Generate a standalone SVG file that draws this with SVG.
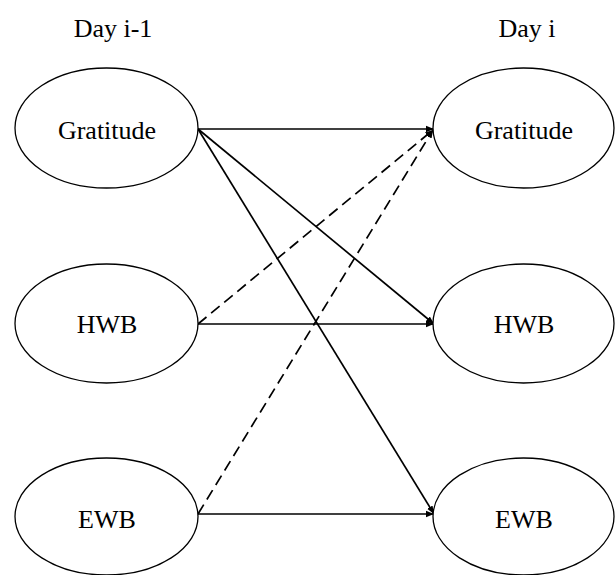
<svg xmlns="http://www.w3.org/2000/svg" width="615" height="575" viewBox="0 0 615 575">
<style>
.node ellipse{fill:#fff;stroke:#000;stroke-width:1.3}
text{font-family:"Liberation Serif","Times New Roman",serif;font-size:26px;fill:#000;text-anchor:middle}
.c line{stroke:#000;stroke-width:1.7;marker-end:url(#ah)}
.c .d{stroke-dasharray:11 6}
</style>
<defs>
<marker id="ah" viewBox="0 0 10 10" refX="10" refY="5" markerWidth="8" markerHeight="8" markerUnits="userSpaceOnUse" orient="auto">
<path d="M0,1 L10,5 L0,9 Z" fill="#000"/>
</marker>
</defs>
<rect width="615" height="575" fill="#fff"/>
<text x="113" y="37">Day i-1</text>
<text x="527" y="37">Day i</text>
<g class="c" id="connectors">
<line x1="198" y1="129" x2="434" y2="129"/>
<line x1="198" y1="129" x2="434" y2="324"/>
<line x1="198" y1="129" x2="434" y2="514"/>
<line x1="198" y1="324" x2="434" y2="324"/>
<line x1="198" y1="514" x2="434" y2="514"/>
<line class="d" x1="198" y1="324" x2="433" y2="130"/>
<line class="d" x1="198" y1="514" x2="433" y2="130"/>
</g>
<g class="node" id="grat-prev"><ellipse cx="106.5" cy="128" rx="91.5" ry="60"/><text x="107" y="139">Gratitude</text></g>
<g class="node" id="hwb-prev"><ellipse cx="106.5" cy="323.5" rx="91.5" ry="59.5"/><text x="107" y="333">HWB</text></g>
<g class="node" id="ewb-prev"><ellipse cx="106.5" cy="516.5" rx="91.5" ry="58.5"/><text x="107" y="528">EWB</text></g>
<g class="node" id="grat-cur"><ellipse cx="523.5" cy="128" rx="90.5" ry="60"/><text x="524" y="139">Gratitude</text></g>
<g class="node" id="hwb-cur"><ellipse cx="523.5" cy="323.5" rx="90.5" ry="59.5"/><text x="524" y="333">HWB</text></g>
<g class="node" id="ewb-cur"><ellipse cx="523.5" cy="516.5" rx="90.5" ry="58.5"/><text x="524" y="528">EWB</text></g>
</svg>
